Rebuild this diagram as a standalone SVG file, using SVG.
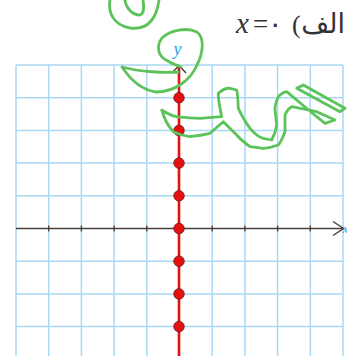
<svg xmlns="http://www.w3.org/2000/svg" width="347" height="356" viewBox="0 0 347 356">
<defs>
<style>
.grid{stroke:#a9d9f2;stroke-width:1.5;fill:none}
.axis{stroke:#4a403c;stroke-width:1.5;fill:none}
.tick{stroke:#4a403c;stroke-width:1.3}
.red{stroke:#e51010;stroke-width:2.6;fill:none}
.dot{fill:#e51010;stroke:#5a1a1a;stroke-width:0.7}
.green{stroke:#5cc35a;stroke-width:2.8;fill:none;stroke-linecap:round;stroke-linejoin:round}
.lbl{font-family:"Liberation Serif",serif;font-style:italic;fill:#2aa3e6}
.title{font-family:"DejaVu Sans","Noto Sans",sans-serif;fill:#333;font-size:27px}
</style>
</defs>
<rect width="347" height="356" fill="#fff"/>
<g id="grid">
<path class="grid" d="M16,65V356M48.7,65V356M81.4,65V356M114.1,65V356M146.8,65V356M212.2,65V356M244.9,65V356M277.6,65V356M310.3,65V356M343,65V356"/>
<path class="grid" d="M16,65H343M16,97.7H343M16,130.4H343M16,163.1H343M16,195.8H343M16,261.2H343M16,293.9H343M16,326.6H343"/>
</g>
<g id="connectors">
<path class="axis" d="M16,228.5H343"/>
<path class="tick" d="M48.7,225.5v6M81.4,225.5v6M114.1,225.5v6M146.8,225.5v6M212.2,225.5v6M244.9,225.5v6M277.6,225.5v6M310.3,225.5v6"/>
<path class="axis" d="M333,221.5L343.5,228.5L333,235.5" stroke-width="1.8"/>
<path class="axis" d="M172,73L179,65.5L186,73" stroke="#666"/>
<path class="red" d="M179,66V356"/>
</g>
<g id="points">
<circle class="dot" cx="179" cy="97.7" r="5.3"/>
<circle class="dot" cx="179" cy="130.4" r="5.3"/>
<circle class="dot" cx="179" cy="163.1" r="5.3"/>
<circle class="dot" cx="179" cy="195.8" r="5.3"/>
<circle class="dot" cx="179" cy="228.5" r="5.3"/>
<circle class="dot" cx="179" cy="261.2" r="5.3"/>
<circle class="dot" cx="179" cy="293.9" r="5.3"/>
<circle class="dot" cx="179" cy="326.6" r="5.3"/>
</g>
<g id="labels">
<text class="lbl" x="173.5" y="55" font-size="18">y</text>
<text class="lbl" x="342.5" y="233" font-size="13">x</text>
<text x="236" y="33" font-family="Liberation Serif,serif" font-style="italic" font-size="29" fill="#333">x</text>
<text x="253" y="33" font-family="Liberation Serif,serif" font-size="27" fill="#333">=</text>
<text x="268" y="33" class="title">۰</text>
<text x="292" y="33" font-family="Liberation Serif,serif" font-size="26" fill="#333">(</text>
<text x="345" y="33" class="title" text-anchor="end">الف</text>
</g>
<g id="annotations">
<path class="green" d="M110,0C108,12 113,25 130,28C146,30 156,22 159,0"/>
<path class="green" d="M125,0C126,8 132,15 140,15C144,14 144,6 143,0"/>
<path class="green" d="M178,72C165,73 140,72 122,67C130,79 142,90 156,92C176,92 191,79 197,65C203,53 205,38 197,32C187,27 170,30 162,38C156,46 158,56 166,60C172,64 178,66 181,67"/>
<path class="green" d="M161.7,110C168,114 172,116 176.7,116.7C185,118 195,118 200,118.3L221.7,116.7C220,108 218,100 218.3,93.3C222,90 226,88 230,88.3L236.7,90C238,96 238,102 238.3,108.3C242,116 246,123 250,128.3C254,133 258,137 263.3,138.3L271.7,140C274,136 276,130 276.7,125C276,118 275,112 275,106.7C276,102 277,99 278.3,96.7C281,94 284,92 286.7,91.7L296.7,100L316.7,116.7L325,123.3L335,120L316.7,111.7L291.7,106.7C288,109 286,112 285,115L285,131.7C283,137 281,142 278.3,145C273,147 268,148 263.3,148.3L250,146.7C245,143 240,139 236.7,135L223.3,121.7L210,133.3C203,135 196,136 190,136.7C184,136 178,134 173.3,131.7C168,126 164,118 161.7,110Z"/>
<path class="green" d="M296.7,88.3L303.3,85L345,108.3L340,111.7Z"/>
</g>
</svg>
